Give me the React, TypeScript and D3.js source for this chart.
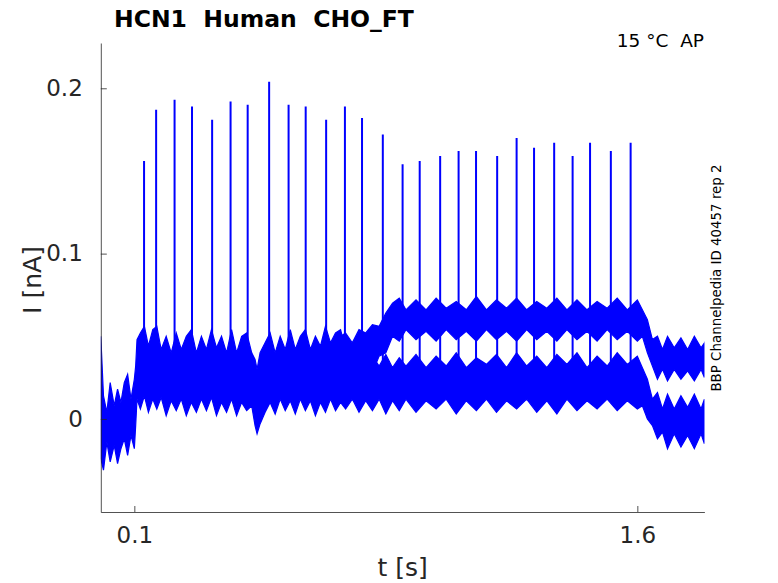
import { useEffect, useRef } from 'react';
import * as d3 from 'd3';

// lower sweep (and both sweeps together before they split), envelope of the noise band in nA
const lowerT = [
  0, 0.008, 0.018, 0.028, 0.04, 0.05, 0.06, 0.07, 0.08, 0.09, 0.1, 0.104,
  0.108, 0.118, 0.13, 0.142, 0.155, 0.167, 0.18, 0.195, 0.21, 0.225, 0.24, 0.255, 0.27, 0.285, 0.3, 0.315,
  0.33, 0.345, 0.36, 0.375, 0.39, 0.405, 0.42, 0.435, 0.45, 0.46, 0.466, 0.475, 0.49, 0.505, 0.52, 0.535,
  0.55, 0.565, 0.58, 0.595, 0.61, 0.625, 0.64, 0.655, 0.67, 0.685, 0.7, 0.715,
  0.73, 0.75, 0.77, 0.79, 0.81, 0.83, 0.85, 0.87, 0.89, 0.91, 0.94, 0.97, 1.0, 1.03, 1.06, 1.09, 1.12,
  1.15, 1.18, 1.21, 1.24, 1.27, 1.3, 1.33, 1.36, 1.39, 1.42, 1.45, 1.48, 1.51, 1.54, 1.57, 1.6, 1.615,
  1.63, 1.645, 1.66, 1.675, 1.69, 1.71, 1.73, 1.75, 1.77, 1.79, 1.8,
];
const lowerHi = [
  0.05, 0.014, 0.004, 0.022, 0.008, 0.018, 0.01, 0.022, 0.027, 0.012, 0.024, 0.032,
  0.048, 0.052, 0.056, 0.044, 0.054, 0.056, 0.042, 0.05, 0.04, 0.052, 0.042, 0.05, 0.054, 0.04, 0.05, 0.042,
  0.054, 0.043, 0.05, 0.04, 0.054, 0.04, 0.05, 0.052, 0.04, 0.036, 0.03, 0.04, 0.046, 0.052, 0.04, 0.05,
  0.042, 0.054, 0.042, 0.05, 0.054, 0.042, 0.05, 0.044, 0.056, 0.046, 0.052, 0.054,
  0.042, 0.034, 0.04, 0.031, 0.038, 0.032, 0.039, 0.031, 0.037, 0.032, 0.039, 0.031, 0.038, 0.032, 0.04, 0.031, 0.037,
  0.033, 0.039, 0.031, 0.04, 0.032, 0.038, 0.031, 0.039, 0.033, 0.04, 0.031, 0.038, 0.032, 0.04, 0.033, 0.038, 0.031,
  0.024, 0.012, 0.016, 0.006, 0.015, 0.006, 0.014, 0.007, 0.015, 0.006, 0.012,
];
const lowerLo = [
  -0.024, -0.031, -0.014, -0.026, -0.016, -0.027, -0.018, -0.012, -0.022, -0.01, -0.018, -0.004,
  0.012, 0.006, 0.014, 0.004, 0.012, 0.006, 0.013, 0.002, 0.011, 0.005, 0.012, 0.002, 0.01, 0.004, 0.012, 0.005,
  0.013, 0.002, 0.01, 0.004, 0.012, 0.002, 0.01, 0.005, 0.008, -0.004, -0.009, -0.003, 0.004, 0.01, 0.003, 0.012,
  0.005, 0.011, 0.003, 0.012, 0.005, 0.011, 0.002, 0.01, 0.004, 0.012, 0.005, 0.01,
  0.006, 0.012, 0.004, 0.011, 0.005, 0.012, 0.003, 0.011, 0.005, 0.012, 0.004, 0.011, 0.006, 0.012, 0.003, 0.011, 0.005,
  0.012, 0.004, 0.011, 0.006, 0.012, 0.004, 0.011, 0.003, 0.012, 0.005, 0.011, 0.006, 0.012, 0.005, 0.011, 0.006, 0.008,
  0.0, -0.004, -0.012, -0.008, -0.018, -0.009, -0.017, -0.01, -0.018, -0.009, -0.015,
];

// upper sweep, once it leaves the lower one
const upperT = [
  0.715,
  0.73, 0.75, 0.77, 0.79, 0.81, 0.83, 0.85, 0.87, 0.89, 0.91, 0.94, 0.97, 1.0, 1.03, 1.06, 1.09, 1.12,
  1.15, 1.18, 1.21, 1.24, 1.27, 1.3, 1.33, 1.36, 1.39, 1.42, 1.45, 1.48, 1.51, 1.54, 1.57, 1.6, 1.615,
  1.63, 1.645, 1.66, 1.675, 1.69, 1.71, 1.73, 1.75, 1.77, 1.79, 1.8,
];
const upperHi = [
  0.05,
  0.052, 0.046, 0.054, 0.052, 0.057, 0.056, 0.064, 0.07, 0.073, 0.066, 0.072, 0.066, 0.073, 0.067, 0.071, 0.066, 0.074,
  0.066, 0.072, 0.067, 0.073, 0.066, 0.071, 0.067, 0.073, 0.066, 0.072, 0.066, 0.071, 0.067, 0.073, 0.066, 0.072, 0.066,
  0.06, 0.048, 0.05, 0.042, 0.05, 0.043, 0.049, 0.042, 0.05, 0.043, 0.046,
];
const upperLo = [
  0.012,
  0.014, 0.02, 0.02, 0.028, 0.028, 0.038, 0.04, 0.05, 0.047, 0.054, 0.048, 0.053, 0.047, 0.054, 0.048, 0.053, 0.047,
  0.054, 0.048, 0.053, 0.047, 0.054, 0.048, 0.053, 0.047, 0.054, 0.048, 0.053, 0.047, 0.054, 0.048, 0.053, 0.047, 0.05,
  0.04, 0.032, 0.024, 0.03, 0.023, 0.03, 0.024, 0.029, 0.023, 0.03, 0.025,
];

// action potential clamp spikes
const spikeT = [
  0.129, 0.165, 0.22, 0.272, 0.332, 0.387, 0.438, 0.502, 0.56, 0.611, 0.672, 0.728, 0.779, 0.841,
  0.9, 0.951, 1.012, 1.067, 1.119, 1.182, 1.24, 1.292, 1.352, 1.407, 1.459, 1.521, 1.58,
];
const spikePeak = [
  0.156, 0.187, 0.193, 0.189, 0.181, 0.192, 0.19, 0.204, 0.19, 0.189, 0.181, 0.189, 0.182, 0.172,
  0.154, 0.156, 0.159, 0.162, 0.162, 0.159, 0.17, 0.164, 0.167, 0.159, 0.167, 0.162, 0.167,
];
const spikeBase = 0.02;

const xTicks = [0.1, 1.6];
const yTicks = [0, 0.1, 0.2];

const W = 778;
const H = 583;
const FONT = '"DejaVu Sans", sans-serif';
const BLUE = '#0000ff';
const AXIS = '#262626';

export default function App() {
  const svgRef = useRef<SVGSVGElement>(null);

  useEffect(() => {
    if (!svgRef.current) return;
    const svg = d3.select(svgRef.current);
    svg.selectAll('*').remove();

    const margin = { top: 43, right: 73.6, bottom: 71, left: 100.8 };
    const x = d3.scaleLinear().domain([0, 1.8]).range([margin.left, W - margin.right]);
    const y = d3.scaleLinear().domain([-0.0563, 0.2274]).range([H - margin.bottom, margin.top]);

    svg.append('rect').attr('width', W).attr('height', H).attr('fill', '#fff');

    svg.append('clipPath').attr('id', 'plot-clip')
      .append('rect')
      .attr('x', margin.left).attr('y', margin.top)
      .attr('width', W - margin.left - margin.right)
      .attr('height', H - margin.top - margin.bottom);

    const plot = svg.append('g').attr('clip-path', 'url(#plot-clip)');

    // noise bands
    const drawBand = (ts: number[], hi: number[], lo: number[]) => {
      const area = d3.area<number>()
        .x(i => x(ts[i]))
        .y0(i => y(lo[i]))
        .y1(i => y(hi[i]))
        .curve(d3.curveLinear);
      plot.append('path')
        .attr('d', area(d3.range(ts.length)))
        .attr('fill', BLUE)
        .attr('stroke', BLUE)
        .attr('stroke-width', 1.2)
        .attr('stroke-linejoin', 'miter');
    };
    drawBand(lowerT, lowerHi, lowerLo);
    drawBand(upperT, upperHi, upperLo);

    // spikes
    plot.selectAll('.spike')
      .data(spikeT)
      .join('line')
      .attr('class', 'spike')
      .attr('x1', d => x(d))
      .attr('x2', d => x(d))
      .attr('y1', y(spikeBase))
      .attr('y2', (_, i) => y(spikePeak[i]))
      .attr('stroke', BLUE)
      .attr('stroke-width', 2);

    // axes
    const xAxis = svg.append('g')
      .attr('transform', `translate(0,${H - margin.bottom})`)
      .call(d3.axisBottom(x).tickValues(xTicks).tickSizeInner(-6).tickSizeOuter(0).tickPadding(15)
        .tickFormat(d => d3.format('.1f')(Number(d))));
    xAxis.select('.domain').attr('stroke', AXIS).attr('stroke-width', 0.8);
    xAxis.selectAll('.tick line').attr('stroke', AXIS).attr('stroke-width', 0.8);
    xAxis.selectAll('text')
      .attr('fill', AXIS)
      .style('font-family', FONT)
      .style('font-size', '23px');

    const yAxis = svg.append('g')
      .attr('transform', `translate(${margin.left},0)`)
      .call(d3.axisLeft(y).tickValues(yTicks).tickSizeInner(-6).tickSizeOuter(0).tickPadding(18)
        .tickFormat(d => (Number(d) === 0 ? '0' : d3.format('.1f')(Number(d)))));
    yAxis.select('.domain').attr('stroke', AXIS).attr('stroke-width', 0.8);
    yAxis.selectAll('.tick line').attr('stroke', AXIS).attr('stroke-width', 0.8);
    yAxis.selectAll('text')
      .attr('fill', AXIS)
      .style('font-family', FONT)
      .style('font-size', '23px');

    // labels
    svg.append('text')
      .attr('x', (margin.left + W - margin.right) / 2)
      .attr('y', 576)
      .attr('text-anchor', 'middle')
      .attr('fill', AXIS)
      .style('font-family', FONT)
      .style('font-size', '25px')
      .text('t [s]');

    svg.append('text')
      .attr('transform', 'translate(41,280) rotate(-90)')
      .attr('text-anchor', 'middle')
      .attr('fill', AXIS)
      .style('font-family', FONT)
      .style('font-size', '25px')
      .text('I [nA]');

    svg.append('text')
      .attr('x', 114)
      .attr('y', 27)
      .attr('fill', '#000')
      .style('font-family', FONT)
      .style('font-weight', 'bold')
      .style('font-size', '23.5px')
      .style('white-space', 'pre')
      .text('HCN1  Human  CHO_FT');

    svg.append('text')
      .attr('x', 704)
      .attr('y', 47)
      .attr('text-anchor', 'end')
      .attr('fill', '#000')
      .style('font-family', FONT)
      .style('font-size', '18.5px')
      .style('white-space', 'pre')
      .text('15 °C  AP');

    svg.append('text')
      .attr('transform', 'translate(721,278) rotate(-90)')
      .attr('text-anchor', 'middle')
      .attr('fill', '#000')
      .style('font-family', FONT)
      .style('font-size', '13.4px')
      .text('BBP Channelpedia ID 40457 rep 2');
  }, []);

  return (
    <svg
      ref={svgRef}
      width={W}
      height={H}
      style={{ position: 'absolute', left: 0, top: 0, display: 'block' }}
    />
  );
}
